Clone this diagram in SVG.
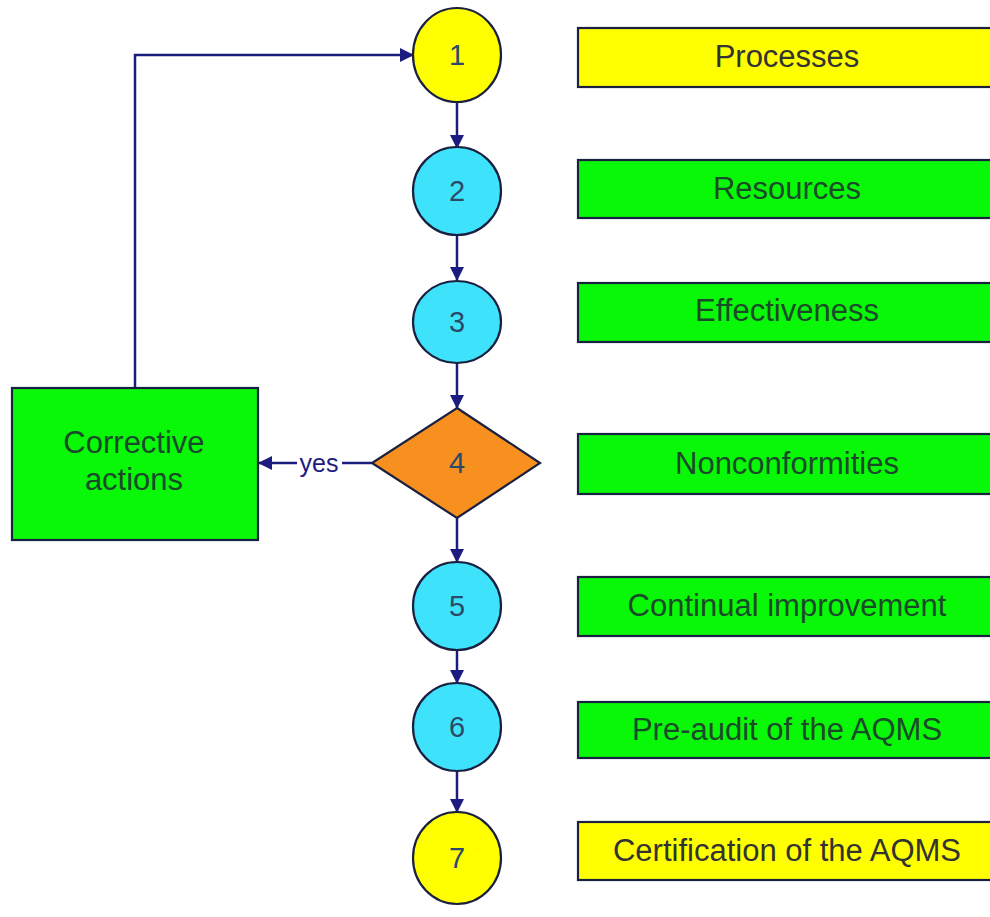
<svg xmlns="http://www.w3.org/2000/svg" width="990" height="917" viewBox="0 0 990 917">
<defs>
<marker id="ah" viewBox="0 0 14 14" refX="13" refY="7" markerWidth="14" markerHeight="14" markerUnits="userSpaceOnUse" orient="auto">
<path d="M0,0 L14,7 L0,14 Z" fill="#1c1c80"/>
</marker>
</defs>
<style>
.conn{stroke:#1c1c80;stroke-width:2.5;fill:none}
.sh{stroke:#1a2040;stroke-width:2.2}
.yel{fill:#ffff00}
.cy{fill:#3fe2fb}
.gr{fill:#08f808}
.or{fill:#f7901e}
.t{font-family:"Liberation Sans",Arial,sans-serif;text-anchor:middle}
.lbl{font-size:31px}
.num{font-size:29px;fill:#2b4a6a}
.gt{fill:#1b4a2a}
.yt{fill:#333333}
</style>
<rect width="990" height="917" fill="#ffffff"/>
<g id="connectors">
<path class="conn" d="M135,388 L135,55 L413,55" marker-end="url(#ah)"/>
<path class="conn" d="M457,102 L457,148" marker-end="url(#ah)"/>
<path class="conn" d="M457,235 L457,280" marker-end="url(#ah)"/>
<path class="conn" d="M457,363 L457,408" marker-end="url(#ah)"/>
<path class="conn" d="M457,518 L457,562" marker-end="url(#ah)"/>
<path class="conn" d="M457,650 L457,683" marker-end="url(#ah)"/>
<path class="conn" d="M457,771 L457,812" marker-end="url(#ah)"/>
<path class="conn" d="M372,463 L342,463"/>
<path class="conn" d="M297,463 L259,463" marker-end="url(#ah)"/>
<text class="t" x="319" y="472" font-size="25" fill="#1c1c80">yes</text>
</g>
<g id="n1"><ellipse class="sh yel" cx="457" cy="55" rx="44" ry="47"/><text class="t num" x="457" y="65" fill="#333">1</text></g>
<g id="n2"><ellipse class="sh cy" cx="457" cy="191" rx="44" ry="44"/><text class="t num" x="457" y="201">2</text></g>
<g id="n3"><ellipse class="sh cy" cx="457" cy="322" rx="44" ry="41"/><text class="t num" x="457" y="332">3</text></g>
<g id="n4"><polygon class="sh or" points="457,408 540,463 457,518 372,463"/><text class="t num" x="457" y="473" fill="#5a3020">4</text></g>
<g id="n5"><ellipse class="sh cy" cx="457" cy="606" rx="44" ry="44"/><text class="t num" x="457" y="616">5</text></g>
<g id="n6"><ellipse class="sh cy" cx="457" cy="727" rx="44" ry="44"/><text class="t num" x="457" y="737">6</text></g>
<g id="n7"><ellipse class="sh yel" cx="457" cy="858" rx="44" ry="46"/><text class="t num" x="457" y="868" fill="#333">7</text></g>
<g id="corrective"><rect class="sh gr" x="12" y="388" width="246" height="152"/><text class="t lbl gt" x="134" y="453">Corrective</text><text class="t lbl gt" x="134" y="490">actions</text></g>
<g id="l1"><rect class="sh yel" x="578" y="28" width="430" height="59"/><text class="t lbl yt" x="787" y="67">Processes</text></g>
<g id="l2"><rect class="sh gr" x="578" y="160" width="430" height="58"/><text class="t lbl gt" x="787" y="199">Resources</text></g>
<g id="l3"><rect class="sh gr" x="578" y="283" width="430" height="59"/><text class="t lbl gt" x="787" y="321">Effectiveness</text></g>
<g id="l4"><rect class="sh gr" x="578" y="434" width="430" height="60"/><text class="t lbl gt" x="787" y="474">Nonconformities</text></g>
<g id="l5"><rect class="sh gr" x="578" y="577" width="430" height="59"/><text class="t lbl gt" x="787" y="616">Continual improvement</text></g>
<g id="l6"><rect class="sh gr" x="578" y="702" width="430" height="56"/><text class="t lbl gt" x="787" y="740">Pre-audit of the AQMS</text></g>
<g id="l7"><rect class="sh yel" x="578" y="822" width="430" height="58"/><text class="t lbl yt" x="787" y="861">Certification of the AQMS</text></g>
</svg>
